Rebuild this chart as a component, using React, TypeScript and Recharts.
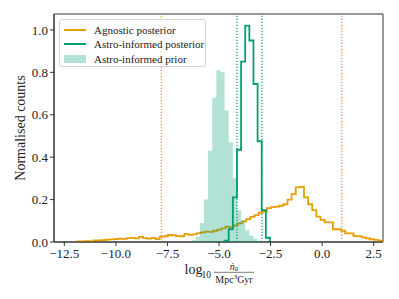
import React from "react";
import { Area, ComposedChart, Line, ReferenceArea, ReferenceLine, XAxis, YAxis } from "recharts";

const FONT = "'Liberation Serif', 'DejaVu Serif', serif";
const ORANGE = "#E69F00";
const GREEN = "#009E73";

const X_TICKS = [-12.5, -10, -7.5, -5, -2.5, 0, 2.5];
const Y_TICKS = [0, 0.2, 0.4, 0.6, 0.8, 1.0];

// agnostic posterior: bins of 0.2 starting at -11.88
const AGNOSTIC_START = -11.88;
const AGNOSTIC_WIDTH = 0.2;
const agnosticCounts = [
  0.003, 0.003, 0.004, 0.003, 0.007, 0.008, 0.009, 0.011, 0.012, 0.014,
  0.016, 0.015, 0.018, 0.019, 0.017, 0.024, 0.018, 0.016, 0.019, 0.014,
  0.025, 0.027, 0.033, 0.031, 0.028, 0.027, 0.038, 0.034, 0.036, 0.042,
  0.045, 0.049, 0.048, 0.053, 0.058, 0.064, 0.072, 0.069, 0.08, 0.088,
  0.097, 0.108, 0.118, 0.127, 0.138, 0.145, 0.16, 0.164, 0.167, 0.171,
  0.178, 0.2, 0.226, 0.258, 0.26, 0.21, 0.178, 0.15, 0.12, 0.104,
  0.093, 0.093, 0.06, 0.06, 0.053, 0.041, 0.041, 0.028, 0.028, 0.022,
  0.017, 0.013, 0.01, 0.006, 0.005,
];

// astro-informed posterior and prior share 0.2 wide bins
const ASTRO_WIDTH = 0.2;
const POSTERIOR_START = -4.73;
const posteriorCounts = [0.006, 0.06, 0.21, 0.435, 0.85, 1.02, 0.95, 0.745, 0.475, 0.15, 0.02];
const PRIOR_START = -6.33;
const priorCounts = [
  0.008, 0.025, 0.09, 0.2, 0.43, 0.68, 0.81, 0.8, 0.62, 0.47, 0.3, 0.15, 0.1, 0.055, 0.03, 0.015, 0.006,
];

// 90% intervals
const agnosticBounds = [-7.8, 0.95];
const astroBounds = [-4.13, -2.92];

function stepData(start: number, width: number, counts: number[]) {
  const pts = [{ x: start, y: 0 }];
  counts.forEach((c, i) => pts.push({ x: start + i * width, y: c }));
  pts.push({ x: start + counts.length * width, y: 0 });
  return pts;
}

const agnosticData = stepData(AGNOSTIC_START, AGNOSTIC_WIDTH, agnosticCounts);
const posteriorData = stepData(POSTERIOR_START, ASTRO_WIDTH, posteriorCounts);
const priorData = stepData(PRIOR_START, ASTRO_WIDTH, priorCounts);

const fmt = (v: number) => v.toFixed(1).replace("-", "\u2212");

function XLabel(props: any) {
  const vb = props.viewBox ?? { x: 54, y: 242, width: 329, height: 40 };
  const cx = vb.x + vb.width / 2;
  const y0 = vb.y;
  return (
    <g fontFamily={FONT} fill="#222">
      <text x={cx - 34} y={y0 + 32} fontSize={14}>log</text>
      <text x={cx - 17} y={y0 + 35.5} fontSize={9.5}>10</text>
      <text x={cx + 15.5} y={y0 + 27.5} fontSize={10} textAnchor="middle">
        <tspan fontStyle="italic">ṅ</tspan>
        <tspan fontSize={7} dy={1.5}>0</tspan>
      </text>
      <line x1={cx - 4.5} x2={cx + 35.5} y1={y0 + 30.3} y2={y0 + 30.3} stroke="#222" strokeWidth={0.6} />
      <text x={cx + 15.5} y={y0 + 40.5} fontSize={10} textAnchor="middle">
        Mpc<tspan fontSize={7} dy={-3.5}>3</tspan>
        <tspan dy={3.5}>Gyr</tspan>
      </text>
    </g>
  );
}

function YLabel(props: any) {
  const vb = props.viewBox ?? { x: 0, y: 14, width: 54, height: 228 };
  const cx = 20;
  const cy = vb.y + vb.height / 2;
  return (
    <text
      x={cx}
      y={cy}
      transform={`rotate(-90 ${cx} ${cy})`}
      textAnchor="middle"
      dominantBaseline="central"
      fontFamily={FONT}
      fontSize={14}
      fill="#222"
    >
      Normalised counts
    </text>
  );
}

function LegendBox() {
  const row = (top: number, swatch: React.ReactNode, label: string) => (
    <div style={{ position: "absolute", left: 0, top: top - 7, height: 14, display: "flex", alignItems: "center" }}>
      <div style={{ width: 34, display: "flex", alignItems: "center" }}>{swatch}</div>
      <span style={{ fontFamily: FONT, fontSize: 11, color: "#222", whiteSpace: "nowrap" }}>{label}</span>
    </div>
  );
  const lineSwatch = (c: string) => <div style={{ marginLeft: 4, width: 22, height: 2, background: c }} />;
  return (
    <div
      style={{
        position: "absolute",
        left: 59,
        top: 19,
        width: 147,
        height: 48,
        boxSizing: "border-box",
        border: "1px solid #d4d4d4",
        borderRadius: 3,
        background: "rgba(255,255,255,0.8)",
      }}
    >
      {row(9.5, lineSwatch(ORANGE), "Agnostic posterior")}
      {row(24, lineSwatch(GREEN), "Astro-informed posterior")}
      {row(38.5, <div style={{ marginLeft: 4, width: 22, height: 8, background: GREEN, opacity: 0.3 }} />, "Astro-informed prior")}
    </div>
  );
}

export default function App() {
  return (
    <div style={{ position: "absolute", left: 0, top: 0, width: 399, height: 299, background: "#fff", fontFamily: FONT }}>
      <ComposedChart width={399} height={299} margin={{ top: 14, right: 16, bottom: 17, left: 0 }} style={{ fontFamily: FONT }}>
        <XAxis
          type="number"
          dataKey="x"
          domain={[-13, 2.95]}
          allowDataOverflow
          ticks={X_TICKS}
          interval={0}
          tickFormatter={fmt}
          height={40}
          tickSize={4}
          tickMargin={3}
          tick={{ fontSize: 13, fill: "#222", fontFamily: FONT }}
          axisLine={{ stroke: "#333" }}
          tickLine={{ stroke: "#333" }}
          label={<XLabel />}
        />
        <YAxis
          type="number"
          domain={[0, 1.075]}
          allowDataOverflow
          ticks={Y_TICKS}
          interval={0}
          tickFormatter={(v: number) => v.toFixed(1)}
          width={54}
          tickSize={4}
          tickMargin={2}
          tick={{ fontSize: 13, fill: "#222", fontFamily: FONT }}
          axisLine={{ stroke: "#333" }}
          tickLine={{ stroke: "#333" }}
          label={<YLabel />}
        />
        <Line
          data={agnosticData}
          dataKey="y"
          type="stepAfter"
          stroke={ORANGE}
          strokeWidth={1.8}
          dot={false}
          activeDot={false}
          isAnimationActive={false}
        />
        <Line
          data={posteriorData}
          dataKey="y"
          type="stepAfter"
          stroke={GREEN}
          strokeWidth={1.8}
          dot={false}
          activeDot={false}
          isAnimationActive={false}
        />
        <Area
          data={priorData}
          dataKey="y"
          type="stepAfter"
          stroke="none"
          fill={GREEN}
          fillOpacity={0.3}
          zIndex={500}
          isAnimationActive={false}
        />
        {agnosticBounds.map((b) => (
          <ReferenceLine key={`a${b}`} x={b} stroke={ORANGE} strokeWidth={1.2} strokeDasharray="1.2 1.8" />
        ))}
        {astroBounds.map((b) => (
          <ReferenceLine key={`g${b}`} x={b} stroke={GREEN} strokeWidth={1.2} strokeDasharray="1.2 1.8" />
        ))}
        <ReferenceArea x1={-13} x2={2.95} y1={0} y2={1.075} fill="none" stroke="#333" strokeWidth={1} />
      </ComposedChart>
      <LegendBox />
    </div>
  );
}
